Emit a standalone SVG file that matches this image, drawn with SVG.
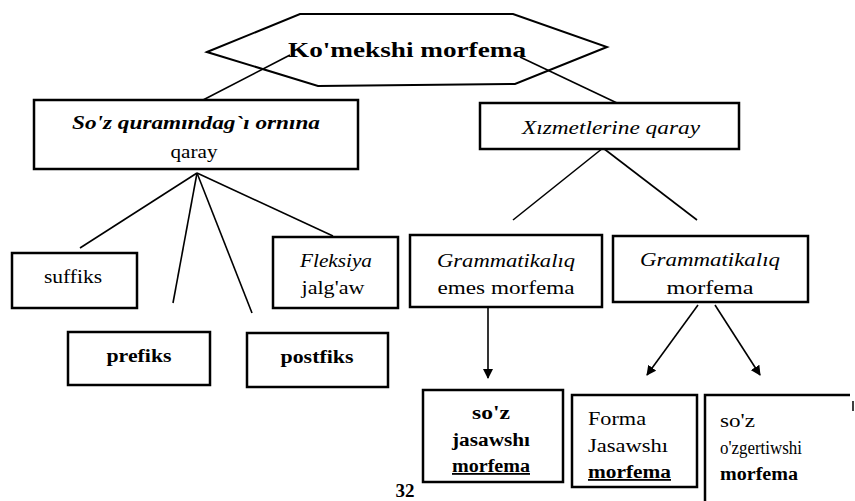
<svg xmlns="http://www.w3.org/2000/svg" width="855" height="501" viewBox="0 0 855 501">
<style>
.box{fill:#fff;stroke:#000;stroke-width:2.5}
.ln{fill:none;stroke:#000;stroke-width:1.6}
.t{font-family:"Liberation Serif","DejaVu Serif",serif;font-size:19px;fill:#000;text-anchor:middle}
.i{font-style:italic}
.b{font-weight:bold}
.l{text-anchor:start}
.s18{font-size:18px}
</style>
<defs>
<marker id="ah" viewBox="0 0 10 10" refX="9" refY="5" markerWidth="10" markerHeight="11" markerUnits="userSpaceOnUse" orient="auto">
<path d="M0,0 L10,5 L0,10 Z" fill="#000"/>
</marker>
</defs>
<g id="connectors">
<line class="ln" x1="203" y1="100" x2="290" y2="55"/>
<line class="ln" x1="617" y1="103" x2="520" y2="57"/>
<line class="ln" x1="197" y1="173" x2="80" y2="248"/>
<line class="ln" x1="197" y1="173" x2="173" y2="303"/>
<line class="ln" x1="197" y1="173" x2="252" y2="313"/>
<line class="ln" x1="197" y1="173" x2="333" y2="236"/>
<line class="ln" x1="603" y1="148" x2="513" y2="220"/>
<line class="ln" x1="603" y1="148" x2="697" y2="220"/>
<line class="ln" x1="488" y1="307" x2="488" y2="378" marker-end="url(#ah)"/>
<line class="ln" x1="698" y1="305" x2="647" y2="375" marker-end="url(#ah)"/>
<line class="ln" x1="715" y1="305" x2="760" y2="375" marker-end="url(#ah)"/>
</g>
<g id="root">
<polygon points="207,52 300,14 513,14 607,47 515,84 318,86" fill="none" stroke="#000" stroke-width="2"/>
<text class="t b" x="407" y="57" style="font-size:22px" textLength="238" lengthAdjust="spacingAndGlyphs">Ko'mekshi morfema</text>
</g>
<g id="n-soz">
<rect class="box" x="34" y="100" width="324" height="69"/>
<text class="t b i" x="196" y="129" textLength="248" lengthAdjust="spacingAndGlyphs">So'z quramındag`ı ornına</text>
<text class="t" x="194" y="158" textLength="47" lengthAdjust="spacingAndGlyphs">qaray</text>
</g>
<g id="n-xizmet">
<rect class="box" x="480" y="103" width="259" height="46"/>
<text class="t i" x="611" y="134" textLength="178" lengthAdjust="spacingAndGlyphs">Xızmetlerine qaray</text>
</g>
<g id="n-suffiks">
<rect class="box" x="12" y="253" width="125" height="55"/>
<text class="t" x="73" y="283" textLength="58" lengthAdjust="spacingAndGlyphs">suffiks</text>
</g>
<g id="n-prefiks">
<rect class="box" x="68" y="332" width="142" height="53"/>
<text class="t b" x="139" y="362" textLength="65" lengthAdjust="spacingAndGlyphs">prefiks</text>
</g>
<g id="n-postfiks">
<rect class="box" x="247" y="333" width="141" height="54"/>
<text class="t b" x="317" y="363" textLength="73" lengthAdjust="spacingAndGlyphs">postfiks</text>
</g>
<g id="n-fleksiya">
<rect class="box" x="273" y="237" width="125" height="71"/>
<text class="t i" x="336" y="267" textLength="72" lengthAdjust="spacingAndGlyphs">Fleksiya</text>
<text class="t" x="333" y="294" textLength="63" lengthAdjust="spacingAndGlyphs">jalg'aw</text>
</g>
<g id="n-gram-emes">
<rect class="box" x="410" y="235" width="192" height="72"/>
<text class="t i" x="506" y="267" textLength="138" lengthAdjust="spacingAndGlyphs">Grammatikalıq</text>
<text class="t" x="506" y="294" textLength="137" lengthAdjust="spacingAndGlyphs">emes morfema</text>
</g>
<g id="n-gram">
<rect class="box" x="613" y="236" width="195" height="66"/>
<text class="t i" x="710" y="266" textLength="140" lengthAdjust="spacingAndGlyphs">Grammatikalıq</text>
<text class="t" x="710" y="294" textLength="87" lengthAdjust="spacingAndGlyphs">morfema</text>
</g>
<g id="n-soz-jasawshi">
<rect class="box" x="423" y="390" width="140" height="92"/>
<text class="t b s18" x="491" y="419" textLength="38" lengthAdjust="spacingAndGlyphs">so'z</text>
<text class="t b s18" x="491" y="446" textLength="78" lengthAdjust="spacingAndGlyphs">jasawshı</text>
<text class="t b s18" x="491" y="472" text-decoration="underline" textLength="78" lengthAdjust="spacingAndGlyphs">morfema</text>
</g>
<g id="n-forma">
<rect class="box" x="572" y="395" width="125" height="92"/>
<text class="t l s18" x="588" y="425" textLength="58" lengthAdjust="spacingAndGlyphs">Forma</text>
<text class="t l s18" x="588" y="452" textLength="80" lengthAdjust="spacingAndGlyphs">Jasawshı</text>
<text class="t l b s18" x="588" y="478" text-decoration="underline" textLength="83" lengthAdjust="spacingAndGlyphs">morfema</text>
</g>
<g id="n-ozgertiwshi">
<path d="M705,505 V395 H850" fill="none" stroke="#000" stroke-width="2.5"/>
<line x1="853" y1="401" x2="853" y2="411" stroke="#000" stroke-width="1.5"/>
<text class="t l s18" x="720" y="427" textLength="35" lengthAdjust="spacingAndGlyphs">so'z</text>
<text class="t l s18" x="720" y="454" textLength="82" lengthAdjust="spacingAndGlyphs">o'zgertiwshi</text>
<text class="t l b s18" x="720" y="480" textLength="78" lengthAdjust="spacingAndGlyphs">morfema</text>
</g>
<text class="t b" x="405" y="497" style="font-size:19px">32</text>
</svg>
